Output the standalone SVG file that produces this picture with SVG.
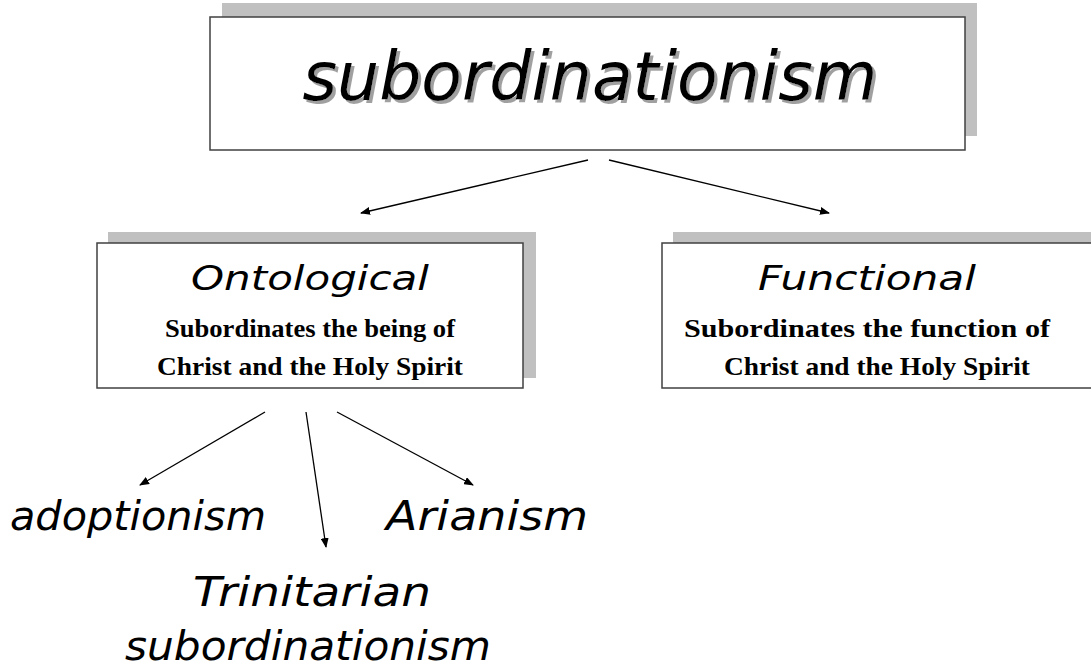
<svg xmlns="http://www.w3.org/2000/svg" width="1091" height="672" viewBox="0 0 1091 672">
<style>
.box{fill:#fff;stroke:#404040;stroke-width:1.5}
.sh{fill:#c0c0c0}
.hand{font-family:"DejaVu Sans",sans-serif;font-style:italic;fill:#000}
.bold{font-family:"Liberation Serif",serif;font-weight:bold;fill:#000;font-size:25px}
.con{stroke:#000;stroke-width:1.3;fill:none;marker-end:url(#ah)}
</style>
<defs>
<marker id="ah" markerWidth="10" markerHeight="8" refX="9" refY="4" orient="auto" markerUnits="userSpaceOnUse">
<path d="M0,0 L10,4 L0,8 Z" fill="#000"/>
</marker>
<filter id="ts" x="-5%" y="-20%" width="110%" height="140%">
<feDropShadow dx="3" dy="3" stdDeviation="0.5" flood-color="#a0a0a0" flood-opacity="1"/>
</filter>
</defs>
<rect width="1091" height="672" fill="#fff"/>
<g id="top">
<rect class="sh" x="222" y="3" width="755" height="133"/>
<rect class="box" x="210" y="17" width="755" height="133"/>
<text class="hand" x="590" y="100" font-size="68" text-anchor="middle" textLength="575" lengthAdjust="spacingAndGlyphs" filter="url(#ts)">subordinationism</text>
</g>
<g id="ontological">
<rect class="sh" x="108" y="232" width="428" height="146"/>
<rect class="box" x="97" y="243" width="426" height="145"/>
<text class="hand" x="310" y="290" font-size="33" text-anchor="middle" textLength="238" lengthAdjust="spacingAndGlyphs">Ontological</text>
<text class="bold" x="310" y="337" text-anchor="middle" textLength="290" lengthAdjust="spacingAndGlyphs">Subordinates the being of</text>
<text class="bold" x="310" y="375" text-anchor="middle" textLength="306" lengthAdjust="spacingAndGlyphs">Christ and the Holy Spirit</text>
</g>
<g id="functional">
<rect class="sh" x="673" y="232" width="420" height="146"/>
<rect class="box" x="662" y="243" width="432" height="145"/>
<text class="hand" x="867" y="290" font-size="33" text-anchor="middle" textLength="218" lengthAdjust="spacingAndGlyphs">Functional</text>
<text class="bold" x="867" y="337" text-anchor="middle" textLength="366" lengthAdjust="spacingAndGlyphs">Subordinates the function of</text>
<text class="bold" x="877" y="375" text-anchor="middle" textLength="306" lengthAdjust="spacingAndGlyphs">Christ and the Holy Spirit</text>
</g>
<g id="adoptionism">
<text class="hand" x="10" y="530" font-size="41" textLength="256" lengthAdjust="spacingAndGlyphs">adoptionism</text>
</g>
<g id="arianism">
<text class="hand" x="386" y="530" font-size="41" textLength="202" lengthAdjust="spacingAndGlyphs">Arianism</text>
</g>
<g id="trinitarian">
<text class="hand" x="312" y="606" font-size="41" text-anchor="middle" textLength="238" lengthAdjust="spacingAndGlyphs">Trinitarian</text>
<text class="hand" x="308" y="660" font-size="41" text-anchor="middle" textLength="366" lengthAdjust="spacingAndGlyphs">subordinationism</text>
</g>
<g id="connectors">
<line class="con" x1="588" y1="160" x2="361" y2="213"/>
<line class="con" x1="609" y1="160" x2="829" y2="213"/>
<line class="con" x1="265" y1="412" x2="140" y2="485"/>
<line class="con" x1="306" y1="412" x2="326" y2="547"/>
<line class="con" x1="337" y1="412" x2="473" y2="485"/>
</g>
</svg>
